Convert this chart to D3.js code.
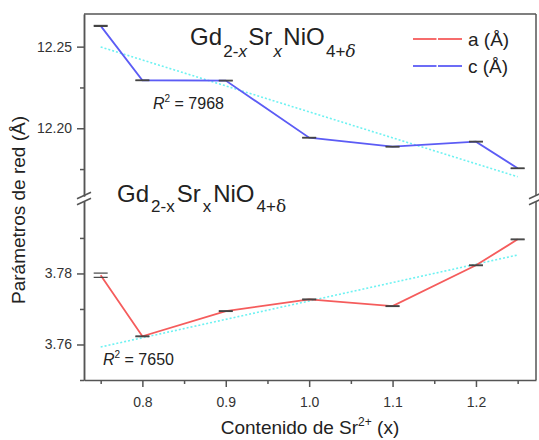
<!DOCTYPE html>
<html>
<head>
<meta charset="utf-8">
<script src="https://cdn.jsdelivr.net/npm/d3@7/dist/d3.min.js"></script>
<style>
  body { margin: 0; background: #fff; }
  text { font-family: Arial, "Liberation Sans", sans-serif; fill: #222; }
  .axis path, .axis line { stroke: #555; stroke-width: 1.5; }
  .axis text { font-size: 14px; fill: #333; }
</style>
</head>
<body>
<script>
// data
const xVals = [0.75, 0.8, 0.9, 1.0, 1.1, 1.2, 1.25];
const cVals = [12.2627, 12.2294, 12.2292, 12.1942, 12.1887, 12.1918, 12.1755];
const cErr  = [0.0003, 0.0002, 0.0002, 0.0002, 0.0002, 0.0002, 0.0002];
const aVals = [3.7795, 3.7623, 3.7694, 3.7727, 3.7708, 3.7823, 3.7896];
const aErr  = [0.0006, 0.0001, 0.0001, 0.0001, 0.0001, 0.0001, 0.0001];
const cFit = [[0.75, 12.2498], [1.25, 12.1703]];
const aFit = [[0.75, 3.7593], [1.25, 3.7852]];
const xTicks = [0.8, 0.9, 1.0, 1.1, 1.2];
const xMinor = [0.75, 0.85, 0.95, 1.05, 1.15, 1.25];
const cTicks = [12.20, 12.25];
const cMinor = [12.175, 12.225];
const aTicks = [3.76, 3.78];
const aMinor = [3.75, 3.77, 3.79];

const W = 539, H = 440;
const pLeft = 84, pRight = 536, pTop = 14, pBottom = 380;
const breakTop = 196, breakBot = 201;

const svg = d3.select("body").append("svg")
    .attr("width", W).attr("height", H);

const x = d3.scaleLinear().domain([0.73, 1.272]).range([pLeft, pRight]);
const yC = d3.scaleLinear().domain([12.1585, 12.27]).range([breakTop, pTop]);
const yA = d3.scaleLinear().domain([3.75, 3.8004]).range([pBottom, breakBot]);

// axes
svg.append("g").attr("class", "axis")
    .attr("transform", "translate(0," + pBottom + ")")
    .call(d3.axisBottom(x).tickValues(xTicks).tickFormat(d3.format(".1f")).tickSize(7).tickSizeOuter(0).tickPadding(10));
svg.append("g").attr("class", "axis")
    .attr("transform", "translate(0," + pBottom + ")")
    .call(d3.axisBottom(x).tickValues(xMinor).tickFormat("").tickSize(4).tickSizeOuter(0))
    .select(".domain").remove();

svg.append("g").attr("class", "axis")
    .attr("transform", "translate(" + pLeft + ",0)")
    .call(d3.axisLeft(yC).tickValues(cTicks).tickFormat(d3.format(".2f")).tickSize(7).tickSizeOuter(0).tickPadding(5));
svg.append("g").attr("class", "axis")
    .attr("transform", "translate(" + pLeft + ",0)")
    .call(d3.axisLeft(yC).tickValues(cMinor).tickFormat("").tickSize(4).tickSizeOuter(0));

svg.append("g").attr("class", "axis")
    .attr("transform", "translate(" + pLeft + ",0)")
    .call(d3.axisLeft(yA).tickValues(aTicks).tickFormat(d3.format(".2f")).tickSize(7).tickSizeOuter(0).tickPadding(5));
svg.append("g").attr("class", "axis")
    .attr("transform", "translate(" + pLeft + ",0)")
    .call(d3.axisLeft(yA).tickValues(aMinor).tickFormat("").tickSize(4).tickSizeOuter(0));

// top and right frame
const frame = svg.append("g").attr("stroke", "#555").attr("stroke-width", 1.5).attr("fill", "none");
frame.append("line").attr("x1", pLeft).attr("x2", pRight).attr("y1", pTop).attr("y2", pTop);
frame.append("line").attr("x1", pRight).attr("x2", pRight).attr("y1", pTop).attr("y2", breakTop);
frame.append("line").attr("x1", pRight).attr("x2", pRight).attr("y1", breakBot).attr("y2", pBottom);

// break marks
[pLeft, pRight].forEach(bx => {
    [breakTop - 0.5, breakBot + 0.5].forEach(by => {
        frame.append("line")
            .attr("x1", bx - 7).attr("y1", by + 3.3)
            .attr("x2", bx + 7).attr("y2", by - 3.3);
    });
});

// fit lines
const line = (ys) => d3.line().x(d => x(d[0])).y(d => ys(d[1]));
svg.append("path").datum(cFit).attr("d", line(yC))
    .attr("fill", "none").attr("stroke", "#6ef2f2").attr("stroke-width", 1.6).attr("stroke-dasharray", "2,2");
svg.append("path").datum(aFit).attr("d", line(yA))
    .attr("fill", "none").attr("stroke", "#6ef2f2").attr("stroke-width", 1.6).attr("stroke-dasharray", "2,2");

// series
const cData = xVals.map((v, i) => [v, cVals[i], cErr[i]]);
const aData = xVals.map((v, i) => [v, aVals[i], aErr[i]]);

function series(data, ys, color) {
    svg.append("path").datum(data).attr("d", line(ys))
        .attr("fill", "none").attr("stroke", color).attr("stroke-width", 1.8);
    const g = svg.append("g").attr("stroke", "#444").attr("stroke-width", 1.2);
    data.forEach(d => {
        [d[1] - d[2], d[1] + d[2]].forEach(v => {
            g.append("line")
                .attr("x1", x(d[0]) - 7).attr("x2", x(d[0]) + 7)
                .attr("y1", ys(v)).attr("y2", ys(v));
        });
    });
}
series(cData, yC, "#5c5cf5");
series(aData, yA, "#f55c5c");

// legend
const legend = [["a (Å)", "#f55c5c", 39], ["c (Å)", "#5c5cf5", 66]];
legend.forEach(l => {
    svg.append("line").attr("x1", 413).attr("x2", 436.5).attr("y1", l[2]).attr("y2", l[2])
        .attr("stroke", l[1]).attr("stroke-width", 1.8);
    svg.append("line").attr("x1", 438).attr("x2", 462).attr("y1", l[2]).attr("y2", l[2])
        .attr("stroke", l[1]).attr("stroke-width", 1.8);
    svg.append("text").attr("x", 468).attr("y", l[2] + 7).attr("font-size", 19).text(l[0]);
});

// compound titles
function formula(xp, yp, italic, shift, gap) {
    const t = svg.append("text").attr("x", xp).attr("y", yp).attr("font-size", 24);
    const fs = italic ? "italic" : "normal";
    const sub = (s, it) => t.append("tspan").attr("font-size", 17).attr("dy", shift).attr("dx", gap)
        .attr("font-style", it ? fs : "normal").text(s);
    const main = (s) => t.append("tspan").attr("dy", -shift).attr("dx", gap).text(s);
    t.append("tspan").text("Gd");
    sub("2-", false);
    t.append("tspan").attr("font-size", 17).attr("font-style", fs).text("x");
    main("Sr");
    sub("x", true);
    main("NiO");
    sub("4+", false);
    t.append("tspan").attr("font-size", 17).attr("font-family", "'DejaVu Serif', serif")
        .attr("font-style", fs).text("δ");
}
formula(190, 45, true, 12, 1.3);
formula(117, 202, false, 10, 2);

// R² labels
function r2(xp, yp, val) {
    const t = svg.append("text").attr("x", xp).attr("y", yp).attr("font-size", 16);
    t.append("tspan").attr("font-style", "italic").text("R");
    t.append("tspan").attr("font-size", 10).attr("dy", -7).text("2");
    t.append("tspan").attr("dy", 7).text(" = " + val);
}
r2(153, 109, "7968");
r2(103, 365, "7650");

// axis labels
const xl = svg.append("text").attr("x", 310).attr("y", 434).attr("text-anchor", "middle").attr("font-size", 19);
xl.append("tspan").text("Contenido de Sr");
xl.append("tspan").attr("font-size", 12).attr("dy", -8).text("2+");
xl.append("tspan").attr("dy", 8).text(" (x)");

svg.append("text")
    .attr("transform", "translate(25,210) rotate(-90)")
    .attr("text-anchor", "middle").attr("font-size", 19)
    .text("Parámetros de red (Å)");
</script>
</body>
</html>
